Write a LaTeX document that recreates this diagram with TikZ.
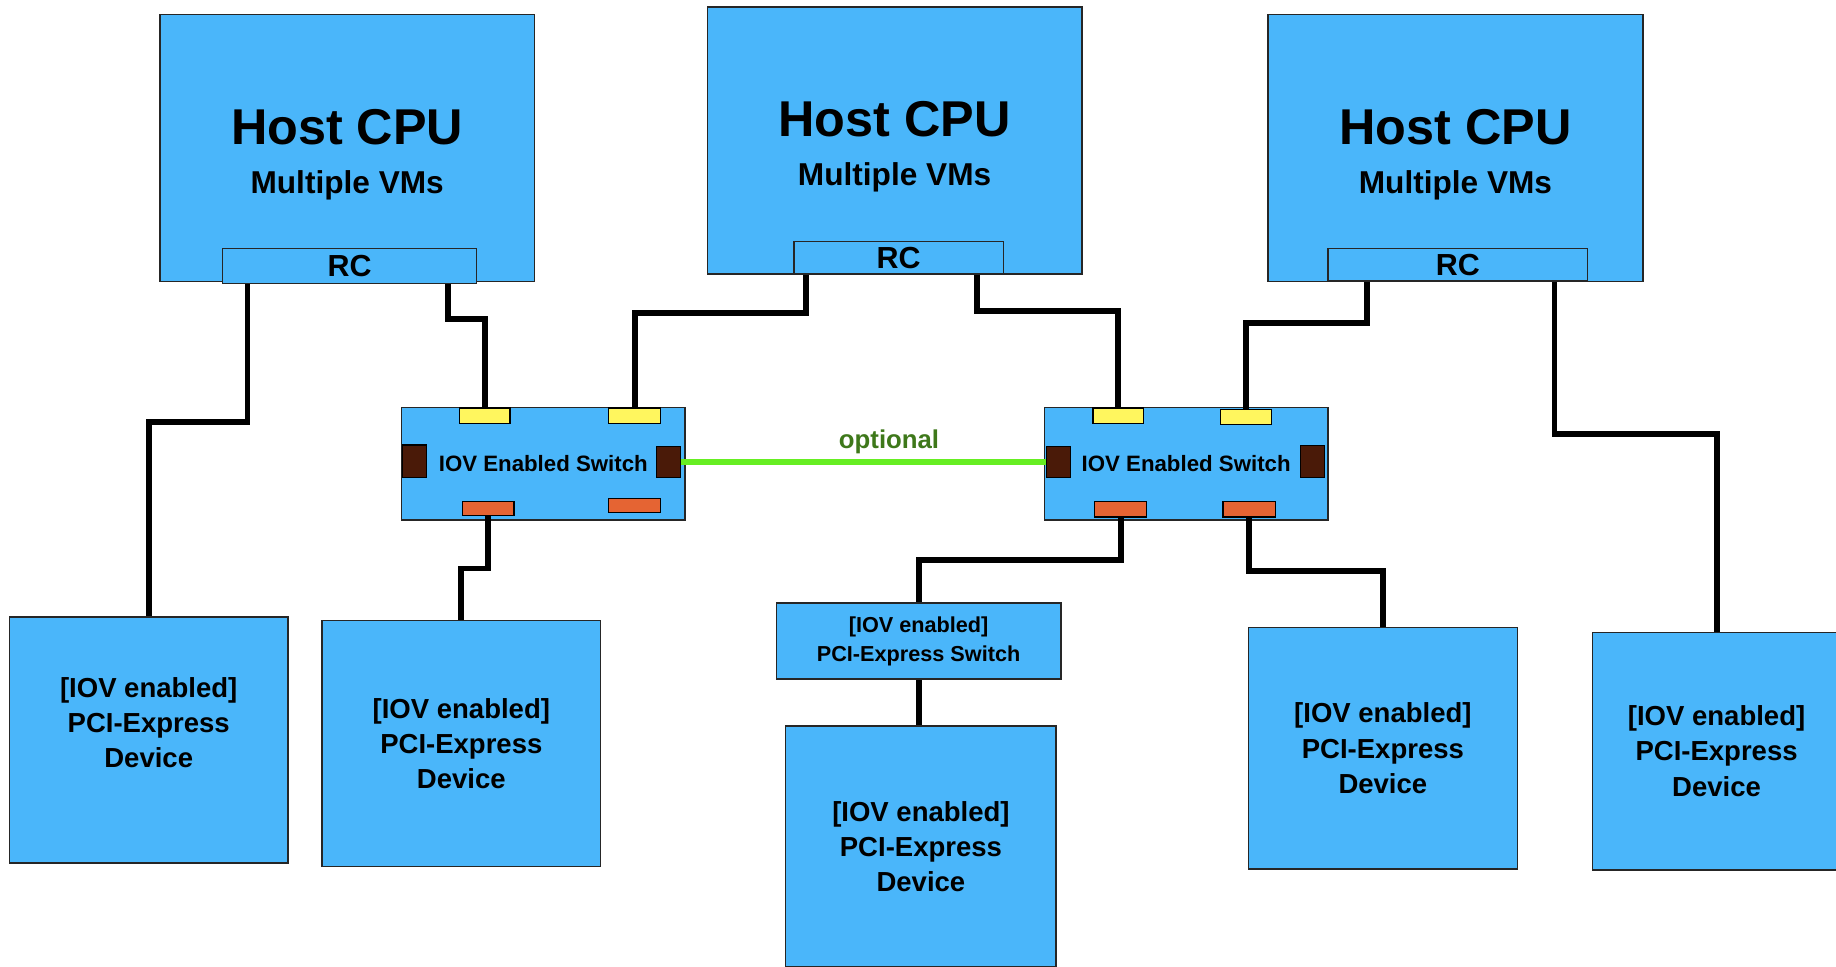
\documentclass[tikz,border=0pt]{standalone}
\usepackage{fontspec}
\setmainfont{Liberation Sans}

\definecolor{boxblue}{RGB}{74,182,250}
\definecolor{portyellow}{RGB}{255,246,94}
\definecolor{portbrown}{RGB}{74,26,8}
\definecolor{portorange}{RGB}{229,100,51}
\definecolor{optgreen}{RGB}{102,238,34}
\definecolor{optdark}{RGB}{62,120,26}

\begin{document}
\begin{tikzpicture}[x=1pt, y=-1pt,
  blk/.style={draw=black!85, line width=1.2pt, fill=boxblue, inner sep=0pt, align=center},
  cpu/.style={blk, minimum width=320pt, minimum height=228pt, font=\bfseries\fontsize{27}{42}\selectfont},
  rc/.style={blk, minimum height=30pt, font=\bfseries\fontsize{26}{30}\selectfont},
  iov/.style={blk, minimum width=242pt, minimum height=96pt, font=\bfseries\fontsize{19}{22}\selectfont},
  devtext/.style={inner sep=0pt, align=center, font=\bfseries\fontsize{23.5}{30}\selectfont},
  device/.style={blk, devtext},
  pcisw/.style={blk, minimum width=243pt, minimum height=65pt, font=\bfseries\fontsize{18.5}{25}\selectfont},
  port/.style={draw=black, line width=1pt, inner sep=0pt},
  yport/.style={port, fill=portyellow, minimum width=43pt, minimum height=13pt},
  bport/.style={port, fill=portbrown, minimum width=21pt, minimum height=27pt},
  oport/.style={port, fill=portorange, minimum width=44pt, minimum height=12pt},
  wire/.style={line width=5pt, black},
  optline/.style={line width=5pt, optgreen}]

\useasboundingbox (0,0) rectangle (1568,825);

% hosts and their root complexes
\newcommand{\hostlabel}{\rule{0pt}{41pt}{\fontsize{43}{42}\selectfont Host CPU}\\Multiple VMs}
\node[cpu] (cpu1) at (296.5,126.5) {\hostlabel};
\node[cpu] (cpu2) at (764,120) {\hostlabel};
\node[cpu] (cpu3) at (1243,126.5) {\hostlabel};
\node[rc, minimum width=217pt] (rc1) at (298.5,227) {RC};
\node[rc, minimum width=179pt, minimum height=28pt] (rc2) at (767.5,220) {RC};
\node[rc, minimum width=222pt, minimum height=28pt] (rc3) at (1245,226) {RC};

% the two switches
\node[iov] (swl) at (464,396) {IOV Enabled Switch};
\node[iov] (swr) at (1013,396) {IOV Enabled Switch};

\node[yport] (swlu1) at (414,355) {};
\node[yport, minimum width=44pt] (swlu2) at (542,355) {};
\node[bport, minimum height=28pt] (swll) at (354,394) {};
\node[bport] (swlr) at (571,394.5) {};
\node[oport] (swlo1) at (417,434) {};
\node[oport] (swlo2) at (542,432) {};

\node[yport] (swru1) at (955,355) {};
\node[yport, minimum width=44pt] (swru2) at (1064,356) {};
\node[bport] (swrl) at (904,394.5) {};
\node[bport] (swrr) at (1121,394) {};
\node[oport, minimum height=13pt] (swro1) at (957,435) {};
\node[oport, minimum width=45pt, minimum height=13pt] (swro2) at (1067,435) {};

% devices
\node[device, minimum width=238pt, minimum height=210pt] (dev1) at (127,632) {};
\node[devtext] (dev1txt) at ([yshift=15pt]dev1.center) {[IOV enabled]\\PCI-Express\\Device};
\node[device, minimum width=238pt, minimum height=210pt] (dev2) at (394,635) {[IOV enabled]\\PCI-Express\\Device};
\node[pcisw] (psw) at (784.5,547.5) {[IOV enabled]\\PCI-Express Switch};
\node[device, minimum width=231pt, minimum height=206pt] (dev3) at (786.5,723) {[IOV enabled]\\PCI-Express\\Device};
\node[device, minimum width=230pt, minimum height=206pt] (dev4) at (1181,639) {[IOV enabled]\\PCI-Express\\Device};
\node[device, minimum width=212pt, minimum height=203pt] (dev5) at (1466,641.5) {[IOV enabled]\\PCI-Express\\Device};

% links
\draw[wire] ([xshift=22pt]rc1.south west) -- ++(0,118) -| (dev1.north);
\draw[wire] ([xshift=-25pt]rc1.south east) -- ++(0,30) -| (swlu1.north);
\draw[wire] ([xshift=11pt]rc2.south west) -- ++(0,33) -| (swlu2.north);
\draw[wire] ([xshift=-23pt]rc2.south east) -- ++(0,31) -| (swru1.north);
\draw[wire] ([xshift=34pt]rc3.south west) -- ++(0,35) -| (swru2.north);
\draw[wire] ([xshift=-29pt]rc3.south east) -- ++(0,130) -| (dev5.north);
\draw[wire] (swlo1.south) -- ++(0,45) -| (dev2.north);
\draw[wire] (swro1.south) -- ++(0,36) -| (psw.north);
\draw[wire] (swro2.south) -- ++(0,46) -| (dev4.north);
\draw[wire] (psw.south) -- (psw.south |- dev3.north);

\draw[optline] (swlr.east) -- (swrl.west)
  node[pos=0.57, above=3pt, inner sep=1pt, text=optdark, font=\bfseries\fontsize{22}{24}\selectfont] (opt) {optional};

\end{tikzpicture}
\end{document}
